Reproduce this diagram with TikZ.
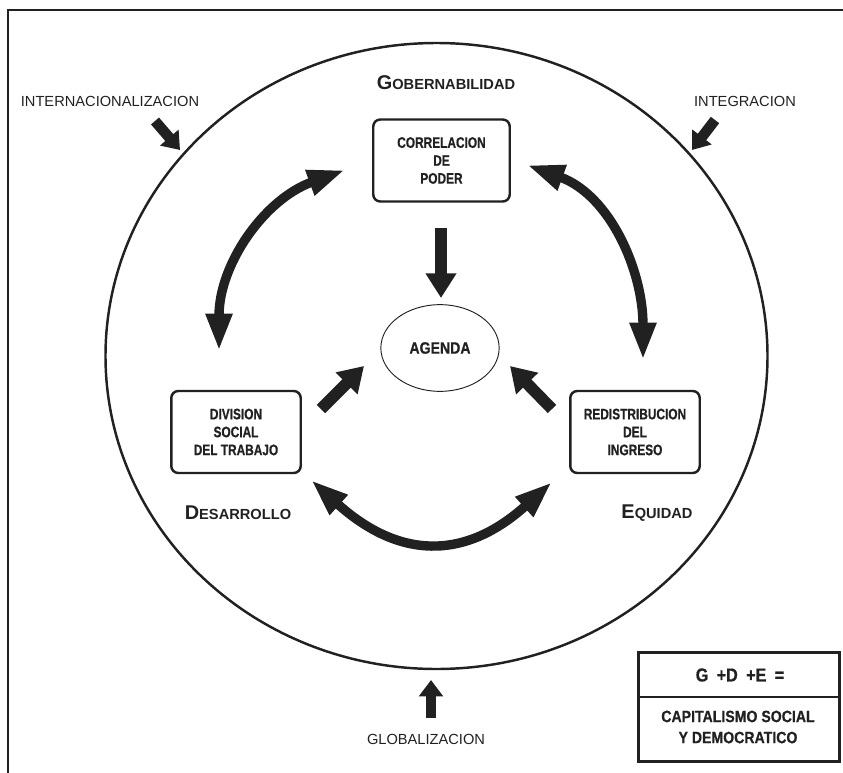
\documentclass[tikz,border=0pt]{standalone}
\usepackage{fontspec}
\setmainfont{Liberation Sans}
\newfontfamily\condA[FakeStretch=0.78,FakeBold=0.6]{Liberation Sans Bold}
\newfontfamily\condB[FakeStretch=0.86,FakeBold=0.5]{Liberation Sans Bold}
\usetikzlibrary{arrows.meta,shapes.geometric}
\definecolor{ink}{gray}{0.13}
\newcommand{\bigsmall}[2]{{\fontsize{17pt}{19pt}\selectfont #1}{\fontsize{12.5pt}{14pt}\selectfont #2}}
\begin{document}
\begin{tikzpicture}[x=0.3mm,y=-0.3mm,
  lbl/.style={font=\fontsize{12.5pt}{15pt}\selectfont, inner sep=0pt, text=ink},
  captxt/.style={font=\bfseries, inner sep=0pt, text=ink},
  box/.style={draw=ink, line width=2.1pt, rounded corners=6pt, minimum height=70pt,
    align=center, font=\condA\fontsize{13pt}{15.3pt}\selectfont, inner sep=0pt, text=ink},
  curvarr/.style={draw=ink, line width=8pt,
    {Triangle[length=32pt,width=21pt]}-{Triangle[length=32pt,width=21pt]}},
  radarr/.style={draw=ink, line width=10pt, -{Triangle[length=21pt,width=25pt]}},
  smallarr/.style={draw=ink, line width=9pt, -{Triangle[length=14pt,width=20pt]}}
]
\useasboundingbox (0,0) rectangle (843,773);
% frame
\draw[ink, line width=2.2pt] (8,790) -- (8,10) -- (860,10);
% big circle
\coordinate (cc) at (436.5,356);
\draw[ink, line width=2.1pt] (cc) ellipse [x radius=331, y radius=313];

% labels
\node[captxt] (gob) at (446,83) {\bigsmall{G}{OBERNABILIDAD}};
\node[captxt] (des) at (238,513) {\bigsmall{D}{ESARROLLO}};
\node[captxt] (equ) at (657,513) {\bigsmall{E}{QUIDAD}};
\node[lbl] (inter) at (110,101) {INTERNACIONALIZACION};
\node[lbl] (integ) at (745,101) {INTEGRACION};
\node[lbl] (glob) at (426,739) {GLOBALIZACION};

% boxes
\node[box, minimum width=116.5pt] (corr) at (441.5,160.5) {CORRELACION\\DE\\PODER};
\node[box, minimum width=110.5pt] (div) at (236,432) {DIVISION\\SOCIAL\\DEL TRABAJO};
\node[box, minimum width=110.5pt] (red) at (635,432) {REDISTRIBUCION\\DEL\\INGRESO};
\node[draw=ink, line width=0.8pt, ellipse, minimum width=101pt, minimum height=74pt,
  font=\condB\fontsize{14pt}{16pt}\selectfont, text=ink, inner sep=0pt] (agenda) at (440,348) {AGENDA};

% curved double arrows
\coordinate (tl1) at (345,170);
\coordinate (tl2) at (219,351);
\coordinate (tr1) at (527,165);
\coordinate (tr2) at (643,360);
\coordinate (b1) at (311,480);
\coordinate (b2) at (552,482);
\draw[curvarr] (tl1) to[out=200,in=90] (tl2);
\draw[curvarr] (tr1) to[out=-20,in=90] (tr2);
\draw[curvarr] (b1) to[out=-42,in=-138,looseness=1.25] (b2);

% radial arrows to agenda
\coordinate (r1a) at (441,228);
\coordinate (r1b) at (441,298);
\coordinate (r2a) at (321,409);
\coordinate (r2b) at (364,366);
\coordinate (r3a) at (552,409);
\coordinate (r3b) at (510,366);
\draw[radarr] (r1a) -- (r1b);
\draw[radarr] (r2a) -- (r2b);
\draw[radarr] (r3a) -- (r3b);

% outer arrows
\coordinate (o1a) at (155,121);
\coordinate (o1b) at (180,150);
\coordinate (o2a) at (715,120);
\coordinate (o2b) at (692,150);
\coordinate (o3a) at (431,718);
\coordinate (o3b) at (431,680);
\draw[smallarr] (o1a) -- (o1b);
\draw[smallarr] (o2a) -- (o2b);
\draw[smallarr] (o3a) -- (o3b);

% formula box
\node[draw=ink, line width=2.4pt, minimum width=171.7pt, minimum height=93pt, inner sep=0pt] (fbox) at (739,707) {};
\draw[ink, line width=1.2pt] (fbox.west |- 0,697) -- (fbox.east |- 0,697);
\node[captxt, font=\condB\fontsize{16pt}{18pt}\selectfont] (eq) at (740,675) {G\hspace{0.45em}+D\hspace{0.45em}+E\hspace{0.45em}=};
\node[captxt, align=center, font=\condB\fontsize{14pt}{18pt}\selectfont] (capt) at (738,727) {CAPITALISMO SOCIAL\\Y DEMOCRATICO};
\end{tikzpicture}
\end{document}
